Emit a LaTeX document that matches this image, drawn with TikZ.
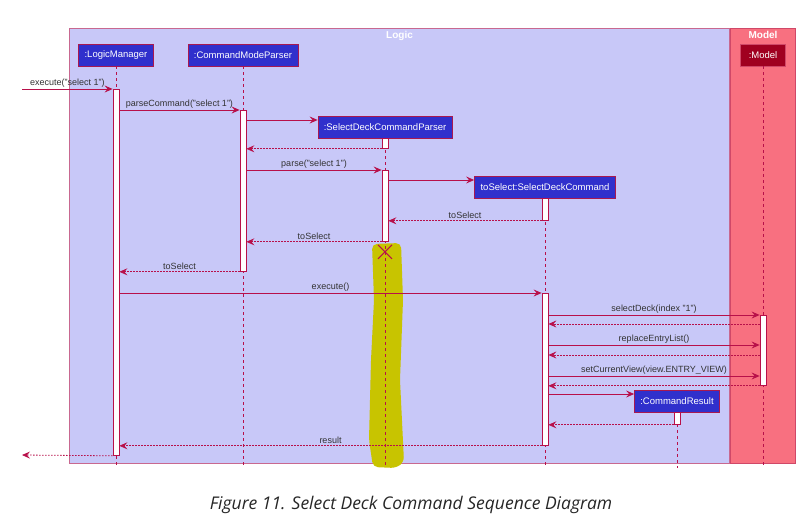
\documentclass[tikz,border=0pt]{standalone}
\usepackage{fontspec}
\setmainfont{Liberation Sans}
\newfontfamily\capfont{Open Sans}
\usetikzlibrary{positioning,arrows.meta,calc}
\definecolor{logicFill}{HTML}{C8C8F8}
\definecolor{logicDraw}{HTML}{C86890}
\definecolor{modelFill}{HTML}{F87080}
\definecolor{modelDraw}{HTML}{D04868}
\definecolor{partFill}{HTML}{3030CC}
\definecolor{partDraw}{HTML}{A81850}
\definecolor{mdlFill}{HTML}{A00020}
\definecolor{msgCol}{HTML}{B8104A}
\definecolor{txtCol}{HTML}{333333}
\definecolor{markCol}{HTML}{C8C400}

\begin{document}
\begin{tikzpicture}[
  x=1pt, y=-1pt,
  font=\fontsize{9}{10}\selectfont,
  frame/.style={line width=1pt, draw=logicDraw, fill=logicFill},
  part/.style={draw=partDraw, line width=0.8pt, fill=partFill, text=white,
               minimum height=22pt, inner xsep=3pt, font=\fontsize{9.5}{10}\selectfont},
  actbar/.style={draw=msgCol, line width=0.8pt, fill=white, minimum width=6pt, inner sep=0pt},
  life/.style={draw=msgCol, line width=0.8pt, dash pattern=on 3pt off 3pt},
  msg/.style={-{Stealth[length=8pt,width=7pt,inset=3pt]}, line width=0.8pt, draw=msgCol},
  ret/.style={-{Stealth[length=8pt,width=7pt,inset=3pt]}, line width=0.8pt, draw=msgCol,
              dash pattern=on 1.5pt off 1.5pt},
  lbl/.style={text=txtCol, anchor=south, inner sep=1.5pt},
  title/.style={text=white, font=\fontsize{10}{11}\selectfont\bfseries, anchor=north, inner sep=3pt},
]
\useasboundingbox (0,0) rectangle (808,530);
\fill[white] (0,0) rectangle (808,530);

% ---- Frames ----
\node[frame, minimum width=660pt, minimum height=435pt, anchor=north west] (logic) at (69,28) {};
\node[frame, draw=modelDraw, fill=modelFill, minimum width=65pt, minimum height=435pt,
      anchor=north west] (model) at (730,28) {};
\node[title] (logicT) at (logic.north) {Logic};
\node[title] (modelT) at (model.north) {Model};

% ---- Highlighter mark ----
\fill[markCol, rounded corners=5pt] (372,244) -- (401,243) -- (403,300) -- (400,380)
  -- (404,462) -- (396,468) -- (373,467) -- (369,440) -- (371,360) -- (374,300) -- cycle;

% ---- Participants ----
\node[part, minimum width=75pt]  (lm)   at (116,55)  {:LogicManager};
\node[part, minimum width=110pt] (cmp)  at (243,55)  {:CommandModeParser};
\node[part, minimum width=134pt] (sdcp) at (385,127) {:SelectDeckCommandParser};
\node[part, minimum width=141pt] (sdc)  at (545,187) {toSelect:SelectDeckCommand};
\node[part, fill=mdlFill, draw=modelDraw, minimum width=45pt] (mdl) at (763,55) {:Model};
\node[part, minimum width=85pt]  (cr)   at (677,401) {:CommandResult};

% ---- Lifelines ----
\foreach \p in {lm,cmp,sdcp,sdc,mdl,cr}
  \draw[life] (\p.south) -- (\p.south |- 0,468);

% ---- Activations ----
\node[actbar, minimum height=366pt, anchor=north] (lmA)    at (116,89)  {};
\node[actbar, minimum height=161pt, anchor=north] (cmpA)   at (243,110) {};
\node[actbar, minimum height=10pt,  anchor=north] (sdcpA)  at (385,138) {};
\node[actbar, minimum height=71pt,  anchor=north] (sdcpB)  at (385,170) {};
\node[actbar, minimum height=22pt,  anchor=north] (sdcA)   at (545,198) {};
\node[actbar, minimum height=152pt, anchor=north] (sdcB)   at (545,293) {};
\node[actbar, minimum height=70pt,  anchor=north] (mdlA)   at (763,315) {};
\node[actbar, minimum height=12pt,  anchor=north] (crA)    at (677,412) {};
\coordinate (caller) at (22,89);
\coordinate (back) at (22,455);

% ---- Messages ----
\draw[msg] (caller) -- node[lbl]{execute("select 1")} (lmA.north west);
\draw[msg] (lmA.east |- 0,110) -- node[lbl]{parseCommand("select 1")} (cmpA.north west);
\draw[msg] (cmpA.east |- 0,120) -- (sdcp.west |- 0,120);
\draw[ret] (sdcpA.south west) -- (cmpA.east |- sdcpA.south);
\draw[msg] (cmpA.east |- 0,170) -- node[lbl]{parse("select 1")} (sdcpB.north west);
\draw[msg] (sdcpB.east |- 0,180) -- (sdc.west |- 0,180);
\draw[ret] (sdcA.south west) -- node[lbl]{toSelect} (sdcpB.east |- sdcA.south);
\draw[ret] (sdcpB.south west) -- node[lbl]{toSelect} (cmpA.east |- sdcpB.south);
\draw[msgCol, line width=1.1pt] ($(sdcpB.south)+(-7,3)$) -- ++(14,14)
  ($(sdcpB.south)+(7,3)$) -- ++(-14,14);
\draw[ret] (cmpA.south west) -- node[lbl]{toSelect} (lmA.east |- cmpA.south);
\draw[msg] (lmA.east |- sdcB.north) -- node[lbl]{execute()} (sdcB.north west);
\draw[msg] (sdcB.east |- mdlA.north) -- node[lbl]{selectDeck(index "1")} (mdlA.north west);
\draw[ret] (mdlA.west |- 0,324) -- (sdcB.east |- 0,324);
\draw[msg] (sdcB.east |- 0,345) -- node[lbl]{replaceEntryList()} (mdlA.west |- 0,345);
\draw[ret] (mdlA.west |- 0,355) -- (sdcB.east |- 0,355);
\draw[msg] (sdcB.east |- 0,376) -- node[lbl]{setCurrentView(view.ENTRY\_VIEW)} (mdlA.west |- 0,376);
\draw[ret] (mdlA.south west) -- (sdcB.east |- mdlA.south);
\draw[msg] (sdcB.east |- 0,394) -- (cr.west |- 0,394);
\draw[ret] (crA.south west) -- (sdcB.east |- crA.south);
\draw[ret] (sdcB.south west) -- node[lbl]{result} (lmA.east |- sdcB.south);
\draw[ret] (lmA.south west) -- (back);

% ---- Caption ----
\node[font=\capfont\itshape\fontsize{17.5}{20}\selectfont, text=black!85] (cap) at (411,505)
  {Figure 11. Select Deck Command Sequence Diagram};
\end{tikzpicture}
\end{document}
